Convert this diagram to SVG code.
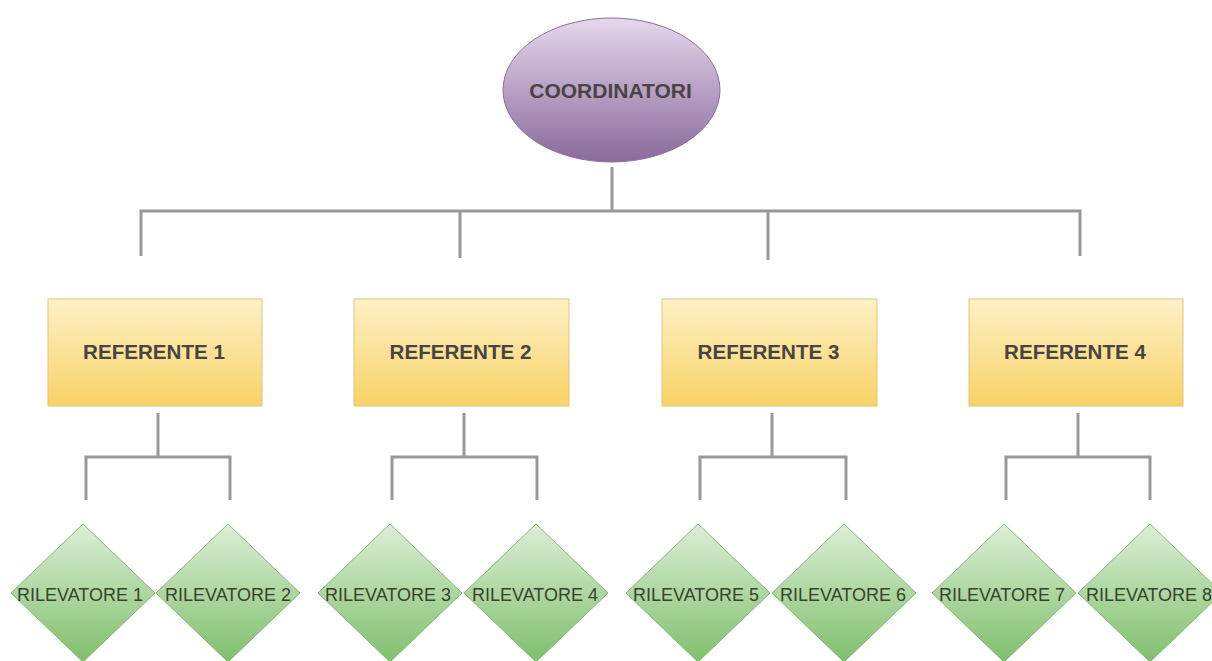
<svg xmlns="http://www.w3.org/2000/svg" width="1212" height="661" viewBox="0 0 1212 661">
<defs>
<linearGradient id="gP" x1="0" y1="0" x2="0" y2="1"><stop offset="0" stop-color="#e6d8ec"/><stop offset="1" stop-color="#8a6a9c"/></linearGradient>
<linearGradient id="gY" x1="0" y1="0" x2="0" y2="1"><stop offset="0" stop-color="#fdf1c6"/><stop offset="1" stop-color="#f9d266"/></linearGradient>
<linearGradient id="gG" x1="0" y1="0" x2="0" y2="1"><stop offset="0" stop-color="#dcefd6"/><stop offset="1" stop-color="#7fbf6c"/></linearGradient>
<style>
.c{fill:none;stroke:#999999;stroke-width:3}
.el{fill:url(#gP);stroke:#8a709a;stroke-width:1}
.rc{fill:url(#gY);stroke:#e2c578;stroke-width:1}
.dm{fill:url(#gG);stroke:#86b477;stroke-width:1}
.tb{font-family:"Liberation Sans",Arial,sans-serif;font-weight:bold;font-size:20.6px;text-anchor:middle;fill:#484444}
.tc{font-size:21px}
.tr{font-family:"Liberation Sans",Arial,sans-serif;font-size:18px;text-anchor:middle;fill:#37432f}
</style>
</defs>
<rect width="1212" height="661" fill="#ffffff"/>
<g id="connectors">
<path class="c" d="M612 167V211M141 256V211H1080V256M460 211V258M768 211V260"/>
<path class="c" d="M158 413V457M86 500V457H230V500"/>
<path class="c" d="M464 413V457M392 500V457H537V500"/>
<path class="c" d="M772 413V457M700 500V457H846V500"/>
<path class="c" d="M1078 413V457M1006 500V457H1150V500"/>
</g>
<g id="coordinatori"><ellipse class="el" cx="611.5" cy="90" rx="108.5" ry="72"/><text class="tb tc" x="610.5" y="97.5">COORDINATORI</text></g>
<g id="referente1"><rect class="rc" x="48" y="299" width="214" height="107"/><text class="tb" x="154" y="359">REFERENTE 1</text></g>
<g id="referente2"><rect class="rc" x="354" y="299" width="215" height="107"/><text class="tb" x="460.5" y="359">REFERENTE 2</text></g>
<g id="referente3"><rect class="rc" x="662" y="299" width="215" height="107"/><text class="tb" x="768.5" y="359">REFERENTE 3</text></g>
<g id="referente4"><rect class="rc" x="969" y="299" width="214" height="107"/><text class="tb" x="1075" y="359">REFERENTE 4</text></g>
<g id="rilevatore1"><polygon class="dm" points="83,524 155,593 83,662 11,593"/><text class="tr" x="80" y="600.5">RILEVATORE 1</text></g>
<g id="rilevatore2"><polygon class="dm" points="228,524 300,593 228,662 156,593"/><text class="tr" x="228" y="600.5">RILEVATORE 2</text></g>
<g id="rilevatore3"><polygon class="dm" points="390,524 462,593 390,662 318,593"/><text class="tr" x="388" y="600.5">RILEVATORE 3</text></g>
<g id="rilevatore4"><polygon class="dm" points="536,524 608,593 536,662 464,593"/><text class="tr" x="535" y="600.5">RILEVATORE 4</text></g>
<g id="rilevatore5"><polygon class="dm" points="698,524 770,593 698,662 626,593"/><text class="tr" x="696" y="600.5">RILEVATORE 5</text></g>
<g id="rilevatore6"><polygon class="dm" points="844,524 916,593 844,662 772,593"/><text class="tr" x="843" y="600.5">RILEVATORE 6</text></g>
<g id="rilevatore7"><polygon class="dm" points="1004,524 1076,593 1004,662 932,593"/><text class="tr" x="1002" y="600.5">RILEVATORE 7</text></g>
<g id="rilevatore8"><polygon class="dm" points="1150,524 1222,593 1150,662 1078,593"/><text class="tr" x="1149" y="600.5">RILEVATORE 8</text></g>
</svg>
